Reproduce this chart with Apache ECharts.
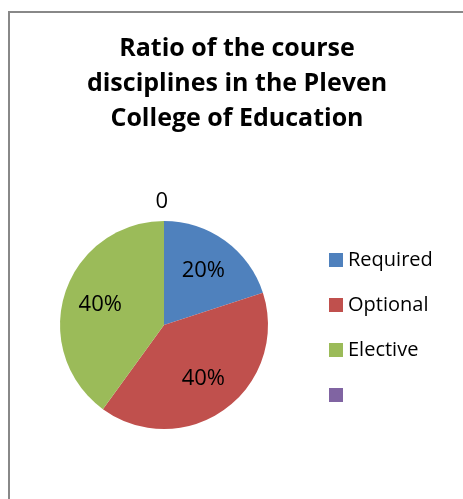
<!DOCTYPE html>
<html style="height: 100%">
  <head>
    <meta charset="utf-8" />
  </head>
  <body style="height: 100%; margin: 0; background: #fff">
    <div id="container" style="width: 463px; height: 499px"></div>
    <script
      type="text/javascript"
      src="https://cdn.jsdelivr.net/npm/echarts@6.0.0/dist/echarts.min.js"
    ></script>
    <script type="text/javascript">
      var dom = document.getElementById("container");
      var myChart = echarts.init(dom, null, { renderer: "canvas" });

      // data
      let categories = ["Required", "Optional", "Elective", " "];
      let values = [20, 40, 40, 0];
      let colors = ["#4F81BD", "#C0504D", "#9BBB59", "#8064A2"];

      let font = "'Open Sans', 'Noto Sans', sans-serif";
      let center = [164, 325];

      let mainData = categories.map(function (name, i) {
        let item = { name: name, value: values[i], itemStyle: { color: colors[i] } };
        if (values[i] === 0) {
          // zero slice shows its value outside, at the top
          item.label = {
            show: true,
            position: "outside",
            formatter: "{c}",
            fontSize: 22,
            color: "#000",
            fontFamily: font,
          };
          item.labelLine = { show: false, length: 19, length2: 0 };
        }
        return item;
      });

      // label-only ring so the percent labels sit further out than mid-radius
      let labelData = categories.map(function (name, i) {
        return {
          name: name,
          value: values[i],
          label: { show: values[i] !== 0 },
        };
      });

      let option = {
        animation: false,
        title: {
          text: "Ratio of the course\ndisciplines in the Pleven\nCollege of Education",
          left: 232,
          textAlign: "center",
          top: 26,
          textStyle: {
            fontFamily: font,
            fontWeight: "bold",
            fontSize: 25,
            lineHeight: 35,
            color: "#000",
          },
        },
        legend: {
          orient: "vertical",
          left: 329,
          top: 250,
          padding: 0,
          itemWidth: 14,
          itemHeight: 14,
          itemGap: 25,
          icon: "rect",
          data: categories,
          textStyle: { fontFamily: font, fontSize: 20, color: "#000" },
        },
        graphic: [
          {
            type: "rect",
            shape: { x: 9, y: 12, width: 480, height: 520 },
            style: { fill: "none", stroke: "#888", lineWidth: 2 },
            silent: true,
            z: -1,
          },
        ],
        series: [
          {
            type: "pie",
            center: center,
            radius: [0, 104],
            startAngle: 90,
            clockwise: true,
            label: { show: false },
            labelLine: { show: false },
            labelLayout: function (p) {
              return p.dataIndex === 3 ? { dx: 9 } : {};
            },
            emphasis: { disabled: true },
            data: mainData,
          },
          {
            type: "pie",
            center: center,
            radius: [24, 104],
            startAngle: 90,
            clockwise: true,
            silent: true,
            itemStyle: { color: "transparent", borderWidth: 0 },
            label: {
              position: "inside",
              formatter: "{d}%",
              fontSize: 22,
              color: "#000",
              fontFamily: font,
            },
            labelLine: { show: false },
            emphasis: { disabled: true },
            data: labelData,
          },
        ],
      };

      myChart.setOption(option);
    </script>
  </body>
</html>
